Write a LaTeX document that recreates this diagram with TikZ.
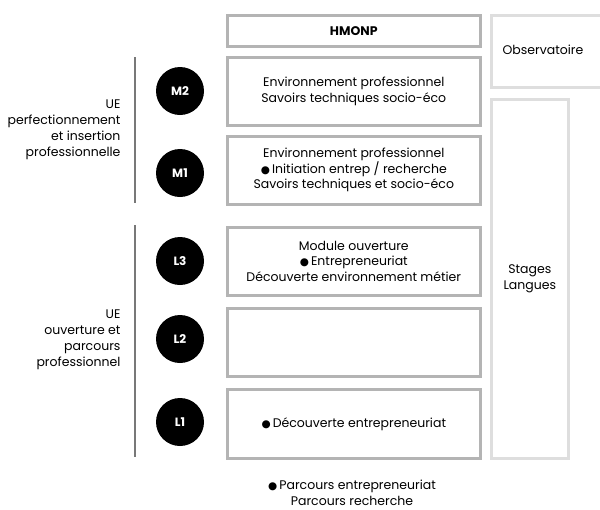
\documentclass[tikz,border=0pt]{standalone}
\usepackage{fontspec}
\setmainfont{Poppins}
\newfontfamily\symfont{DejaVu Sans}
\definecolor{boxgray}{RGB}{180,180,180}
\definecolor{lightgray}{RGB}{222,222,222}
\definecolor{linegray}{RGB}{120,120,120}
\begin{document}
\begin{tikzpicture}[x=1pt,y=-1pt,
  txt/.style={font=\fontsize{12.5}{15.5}\selectfont},
  mainbox/.style={draw=boxgray,line width=2.6pt,minimum width=253pt,anchor=north west,inner sep=0pt,align=center,txt},
  sidebox/.style={draw=lightgray,line width=2.6pt,anchor=north west,inner sep=0pt,align=center,txt},
  level/.style={circle,fill=black,minimum size=48pt,inner sep=0pt,text=white,font=\fontsize{12}{14}\selectfont\bfseries},
  ue/.style={align=right,anchor=east,font=\fontsize{12.5}{16}\selectfont},
  bracket/.style={draw=linegray,line width=2pt}]
\useasboundingbox (0,0) rectangle (600,509);
\clip (0,0) rectangle (600,509);
\def\bul{{\symfont\fontsize{10.5}{10}\selectfont ●}\,}
% main column boxes
\node[mainbox,minimum height=31pt] (hmonp) at (226,14) {\textbf{HMONP}};
\node[mainbox,minimum height=68pt] (m2box) at (226,56) {Environnement professionnel\\Savoirs techniques socio-éco};
\node[mainbox,minimum height=68pt] (m1box) at (226,135) {Environnement professionnel\\\bul Initiation entrep / recherche\\Savoirs techniques et socio-éco};
\node[mainbox,minimum height=68pt] (l3box) at (226,226) {Module ouverture\\\bul Entrepreneuriat\\Découverte environnement métier};
\node[mainbox,minimum height=68pt] (l2box) at (226,307) {};
\node[mainbox,minimum height=69pt] (l1box) at (226,388) {\bul Découverte entrepreneuriat};
% side boxes
\node[sidebox,minimum width=120pt,minimum height=72pt] (obs) at (490,14) {};
\node[txt] (obstext) at (543,50) {Observatoire};
\node[sidebox,minimum width=77pt,minimum height=359pt] (stages) at (490,98) {Stages\\Langues};
% circles
\node[level] (m2) at (180,91) {M2};
\node[level] (m1) at (180,173) {M1};
\node[level] (l3) at (180,261) {L3};
\node[level] (l2) at (180,339) {L2};
\node[level] (l1) at (180,422) {L1};
% brackets
\coordinate (bt1) at (135,57);
\coordinate (bb1) at (135,203);
\coordinate (bt2) at (135,225);
\coordinate (bb2) at (135,457);
\draw[bracket] (bt1) -- (bb1);
\draw[bracket] (bt2) -- (bb2);
% UE labels
\node[ue] (ue1) at (124,130) {UE\\perfectionnement\\et insertion\\professionnelle};
\node[ue] (ue2) at (124,340) {UE\\ouverture et\\parcours\\professionnel};
% bottom note
\node[align=center,txt] (note) at (352,493) {\bul Parcours entrepreneuriat\\Parcours recherche};
\end{tikzpicture}
\end{document}
